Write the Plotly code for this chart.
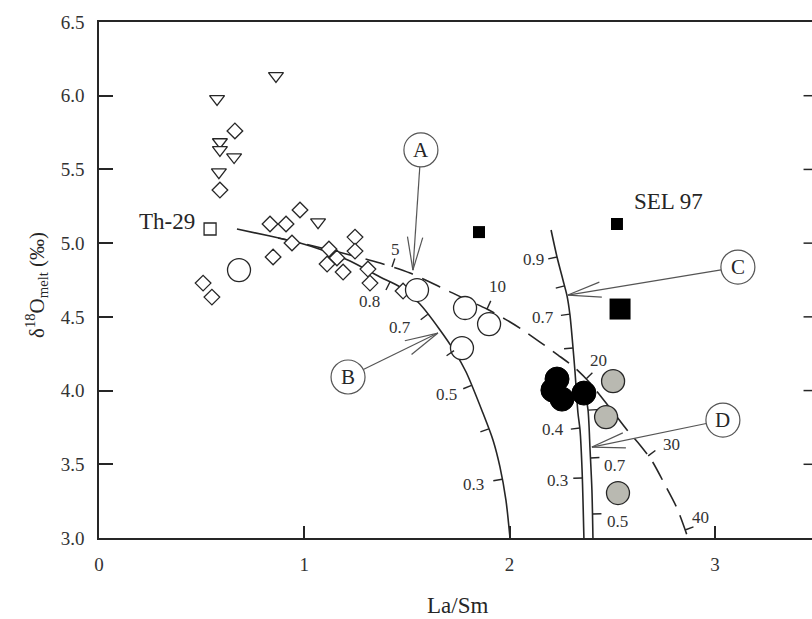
import math
import plotly.graph_objects as go

# ---------------- sample data: La/Sm vs δ18O(melt) ----------------
diamond_x = [0.662, 0.589, 0.979, 0.833, 0.911, 0.940, 0.848, 0.507, 0.550,
             1.247, 1.247, 1.120, 1.159, 1.111, 1.189, 1.310, 1.320, 1.481]
diamond_y = [5.761, 5.360, 5.225, 5.130, 5.130, 5.001, 4.906, 4.729, 4.634,
             5.041, 4.946, 4.960, 4.899, 4.858, 4.804, 4.824, 4.729, 4.675]

triangle_x = [0.862, 0.575, 0.589, 0.589, 0.658, 0.584, 1.067]
triangle_y = [6.134, 5.978, 5.686, 5.632, 5.584, 5.482, 5.143]

open_circle_x = [0.682, 1.549, 1.783, 1.900, 1.768]
open_circle_y = [4.817, 4.682, 4.560, 4.451, 4.288]

th29_x = [0.541]
th29_y = [5.096]

black_circle_x = [2.231, 2.211, 2.255, 2.362]
black_circle_y = [4.078, 4.003, 3.942, 3.983]

gray_circle_x = [2.504, 2.470, 2.528]
gray_circle_y = [4.064, 3.820, 3.305]

sel_small_x = [1.851, 2.523]
sel_small_y = [5.075, 5.130]
sel_big_x = [2.538]
sel_big_y = [4.553]

# ---------------- model curves ----------------
curve_b_x = [0.672, 0.833, 0.979, 1.101, 1.223, 1.369, 1.466, 1.563, 1.661,
             1.734, 1.788, 1.870, 1.919, 1.953, 1.982, 2.002]
curve_b_y = [5.096, 5.048, 5.001, 4.947, 4.879, 4.770, 4.703, 4.587, 4.411,
             4.261, 4.126, 3.848, 3.665, 3.482, 3.258, 3.000]

curve_a_x = [0.872, 1.003, 1.223, 1.369, 1.515, 1.661, 1.783, 1.890, 1.978,
             2.056, 2.148, 2.236, 2.319, 2.392, 2.489, 2.572, 2.635, 2.694,
             2.757, 2.815, 2.869]
curve_a_y = [5.035, 4.994, 4.920, 4.865, 4.797, 4.703, 4.621, 4.553, 4.485,
             4.418, 4.329, 4.241, 4.153, 4.051, 3.882, 3.733, 3.631, 3.522,
             3.360, 3.203, 3.000]

curve_c_x = [2.202, 2.231, 2.260, 2.280, 2.294, 2.309, 2.319, 2.333, 2.343, 2.353, 2.362]
curve_c_y = [5.089, 4.906, 4.750, 4.641, 4.513, 4.289, 4.119, 3.848, 3.733, 3.461, 3.000]

curve_d_x = [2.367, 2.382, 2.392, 2.401, 2.406]
curve_d_y = [3.990, 3.868, 3.597, 3.326, 3.000]

# tick marks along the curves (positions on the curve)
ticks_b_x = [1.417, 1.603, 1.734, 1.831, 1.909, 1.968]
ticks_b_y = [4.736, 4.519, 4.275, 4.045, 3.746, 3.400]
ticks_a_x = [1.427, 1.890, 2.377, 2.674, 2.854]
ticks_a_y = [4.838, 4.553, 4.085, 3.556, 3.054]
ticks_c_x = [2.231, 2.265, 2.294, 2.309, 2.343, 2.358]
ticks_c_y = [4.906, 4.709, 4.519, 4.289, 3.746, 3.407]
ticks_d_x = [2.387, 2.396, 2.406]
ticks_d_y = [3.868, 3.543, 3.163]

# tick labels along the curves
labels_b = ["0.8", "0.7", "0.5", "0.3"]
labels_b_x = [1.320, 1.466, 1.695, 1.822]
labels_b_y = [4.601, 4.431, 3.970, 3.360]
labels_a = ["5", "10", "20", "30", "40"]
labels_a_x = [1.442, 1.939, 2.435, 2.791, 2.932]
labels_a_y = [4.960, 4.703, 4.201, 3.631, 3.136]
labels_c = ["0.9", "0.7", "0.4", "0.3"]
labels_c_x = [2.114, 2.163, 2.211, 2.231]
labels_c_y = [4.886, 4.499, 3.739, 3.393]
labels_d = ["0.7", "0.5"]
labels_d_x = [2.513, 2.528]
labels_d_y = [3.495, 3.109]

# lettered callouts: circle centre and arrow tip
callout_letters = ["A", "B", "C", "D"]
callout_cx = [1.568, 1.213, 3.112, 3.039]
callout_cy = [5.632, 4.092, 4.838, 3.800]
callout_tip_x = [1.529, 1.651, 2.284, 2.401]
callout_tip_y = [4.817, 4.390, 4.648, 3.617]

# axis ticks
x_ticks = [0, 1, 2, 3]
y_ticks = [3.0, 3.5, 4.0, 4.5, 5.0, 5.5, 6.0, 6.5]

# ---------------- geometry ----------------
W, H = 812, 619
ML, MR, MT, MB = 99, 0, 22, 81
X_RANGE = [0.0, 3.473]
X_AXIS_END = 3.5
Y_RANGE = [3.0, 6.5]
SX = (W - ML - MR) / (X_RANGE[1] - X_RANGE[0])
SY = (H - MT - MB) / (Y_RANGE[1] - Y_RANGE[0])

INK = "#262626"
GREY_INK = "#555555"
FONT = "Liberation Serif, Times New Roman, serif"


def to_px(x, y):
    return ((x - X_RANGE[0]) * SX, (Y_RANGE[1] - y) * SY)


def to_data(px, py):
    return (X_RANGE[0] + px / SX, Y_RANGE[1] - py / SY)


def line_shape(p0, p1, color=INK, width=1.4):
    (x0, y0), (x1, y1) = to_data(*p0), to_data(*p1)
    return dict(type="line", xref="x", yref="y", x0=x0, y0=y0, x1=x1, y1=y1,
                line=dict(color=color, width=width), layer="above")


def curve_ticks(cx, cy, tx, ty, side, length=9):
    pts = [to_px(a, b) for a, b in zip(cx, cy)]
    shapes = []
    for ax_, ay_ in zip(tx, ty):
        p = to_px(ax_, ay_)
        best = None
        for (x0, y0), (x1, y1) in zip(pts[:-1], pts[1:]):
            dx, dy = x1 - x0, y1 - y0
            l2 = dx * dx + dy * dy
            t = max(0.0, min(1.0, ((p[0] - x0) * dx + (p[1] - y0) * dy) / l2))
            qx, qy = x0 + t * dx, y0 + t * dy
            d = (qx - p[0]) ** 2 + (qy - p[1]) ** 2
            if best is None or d < best[0]:
                ln = math.sqrt(l2)
                best = (d, qx, qy, dx / ln, dy / ln)
        _, qx, qy, ux, uy = best
        nx, ny = (-uy, ux) if side == "left" else (uy, -ux)
        shapes.append(line_shape((qx, qy), (qx + nx * length, qy + ny * length), INK, 1.4))
    return shapes


fig = go.Figure()

# model curves
for cx, cy, dash in ((curve_b_x, curve_b_y, "solid"), (curve_a_x, curve_a_y, "20px,10px"),
                     (curve_c_x, curve_c_y, "solid"), (curve_d_x, curve_d_y, "solid")):
    fig.add_trace(go.Scatter(x=cx, y=cy, mode="lines",
                             line=dict(color=INK, width=1.6, dash=dash, shape="spline", smoothing=0.8),
                             hoverinfo="skip", showlegend=False))

outline = dict(color=INK, width=1.3)

fig.add_trace(go.Scatter(x=diamond_x, y=diamond_y, mode="markers",
                         marker=dict(symbol="diamond", size=12, color="white", line=outline),
                         showlegend=False))
fig.add_trace(go.Scatter(x=triangle_x, y=triangle_y, mode="markers",
                         marker=dict(symbol="triangle-down", size=13, color="white", line=outline),
                         showlegend=False))
fig.add_trace(go.Scatter(x=th29_x, y=th29_y, mode="markers",
                         marker=dict(symbol="square", size=12, color="white", line=outline),
                         showlegend=False))
fig.add_trace(go.Scatter(x=open_circle_x, y=open_circle_y, mode="markers",
                         marker=dict(symbol="circle", size=23, color="white", line=outline),
                         showlegend=False))
fig.add_trace(go.Scatter(x=gray_circle_x, y=gray_circle_y, mode="markers",
                         marker=dict(symbol="circle", size=23, color="#b9b9b1", line=outline),
                         showlegend=False))
fig.add_trace(go.Scatter(x=black_circle_x, y=black_circle_y, mode="markers",
                         marker=dict(symbol="circle", size=24, color="black", line=dict(color="black", width=1)),
                         showlegend=False))
fig.add_trace(go.Scatter(x=sel_small_x, y=sel_small_y, mode="markers",
                         marker=dict(symbol="square", size=12, color="black", line=dict(width=0)),
                         showlegend=False))
fig.add_trace(go.Scatter(x=sel_big_x, y=sel_big_y, mode="markers",
                         marker=dict(symbol="square", size=21, color="black", line=dict(width=0)),
                         showlegend=False))

shapes = []
shapes += curve_ticks(curve_b_x, curve_b_y, ticks_b_x, ticks_b_y, "left")
shapes += curve_ticks(curve_a_x, curve_a_y, ticks_a_x, ticks_a_y, "right")
shapes += curve_ticks(curve_c_x, curve_c_y, ticks_c_x, ticks_c_y, "left")
shapes += curve_ticks(curve_d_x, curve_d_y, ticks_d_x, ticks_d_y, "right")

# right-hand mirror ticks (the frame's right edge lies just beyond the view)
for yv in y_ticks[1:-1]:
    shapes.append(dict(type="line", xref="x", yref="y", x0=X_AXIS_END - 14 / SX, x1=X_AXIS_END,
                       y0=yv, y1=yv, line=dict(color=INK, width=1.5)))

# callout circles with arrows
R = 17
HEAD_LEN, HEAD_ANG = 34, math.radians(13)
annotations = []
for letter, cx, cy, tx, ty in zip(callout_letters, callout_cx, callout_cy, callout_tip_x, callout_tip_y):
    cpx, cpy = to_px(cx, cy)
    tpx, tpy = to_px(tx, ty)
    dx, dy = cpx - tpx, cpy - tpy
    dl = math.hypot(dx, dy)
    ux, uy = dx / dl, dy / dl
    shapes.append(line_shape((cpx - ux * R, cpy - uy * R), (tpx, tpy), GREY_INK, 1.2))
    for s in (1, -1):
        ca, sa = math.cos(s * HEAD_ANG), math.sin(s * HEAD_ANG)
        hx, hy = ux * ca - uy * sa, ux * sa + uy * ca
        shapes.append(line_shape((tpx, tpy), (tpx + hx * HEAD_LEN, tpy + hy * HEAD_LEN), GREY_INK, 1.2))
    shapes.append(dict(type="circle", xref="x", yref="y", xsizemode="pixel", ysizemode="pixel",
                       xanchor=cx, yanchor=cy, x0=-R, x1=R, y0=-R, y1=R,
                       fillcolor="white", line=dict(color=GREY_INK, width=1.2), layer="above"))
    annotations.append(dict(x=cx, y=cy, xref="x", yref="y", text=letter, showarrow=False,
                            xanchor="center", yanchor="middle",
                            font=dict(family=FONT, size=21, color=INK)))

small_font = dict(family=FONT, size=17, color="#333333")
for texts, xs, ys in ((labels_b, labels_b_x, labels_b_y), (labels_a, labels_a_x, labels_a_y),
                      (labels_c, labels_c_x, labels_c_y), (labels_d, labels_d_x, labels_d_y)):
    for t, x, y in zip(texts, xs, ys):
        annotations.append(dict(x=x, y=y, xref="x", yref="y", text=t, showarrow=False,
                                xanchor="center", yanchor="middle", font=small_font))

annotations.append(dict(x=0.330, y=5.150, xref="x", yref="y", text="Th-29", showarrow=False,
                        xanchor="center", yanchor="middle",
                        font=dict(family=FONT, size=23, color=INK)))
annotations.append(dict(x=2.775, y=5.285, xref="x", yref="y", text="SEL 97", showarrow=False,
                        xanchor="center", yanchor="middle",
                        font=dict(family=FONT, size=23, color=INK)))

# axis titles
PW, PH = W - ML - MR, H - MT - MB
annotations.append(dict(x=(457 - ML) / PW, y=-(605 - (H - MB)) / PH,
                        xref="paper", yref="paper", text="La/Sm", showarrow=False,
                        xanchor="center", yanchor="middle",
                        font=dict(family=FONT, size=23, color=INK)))
annotations.append(dict(x=(36 - ML) / PW, y=((H - MB) - 285) / PH, xref="paper", yref="paper",
                        text="δ<sup>18</sup>O<sub>melt</sub> (‰)", textangle=-90, showarrow=False,
                        xanchor="center", yanchor="middle",
                        font=dict(family=FONT, size=21, color=INK)))

fig.update_layout(
    width=W, height=H,
    margin=dict(l=ML, r=MR, t=MT, b=MB, autoexpand=False),
    paper_bgcolor="white", plot_bgcolor="white",
    shapes=shapes, annotations=annotations,
    font=dict(family=FONT, color=INK),
)
fig.update_xaxes(range=X_RANGE, tickvals=x_ticks, ticktext=[str(v) for v in x_ticks],
                 showline=True, linecolor=INK, linewidth=1.6, mirror=True,
                 ticks="inside", ticklen=12, tickwidth=1.5, tickcolor=INK,
                 showgrid=False, zeroline=False, ticklabelstandoff=8,
                 tickfont=dict(family=FONT, size=19, color="#333333"))
fig.update_yaxes(range=Y_RANGE, tickvals=y_ticks, ticktext=[f"{v:.1f}" for v in y_ticks],
                 showline=True, linecolor=INK, linewidth=1.6, mirror=False,
                 ticks="inside", ticklen=14, tickwidth=1.5, tickcolor=INK,
                 showgrid=False, zeroline=False, ticklabelstandoff=9,
                 tickfont=dict(family=FONT, size=19, color="#333333"))

fig.write_html("out.html", config={"displayModeBar": False})
